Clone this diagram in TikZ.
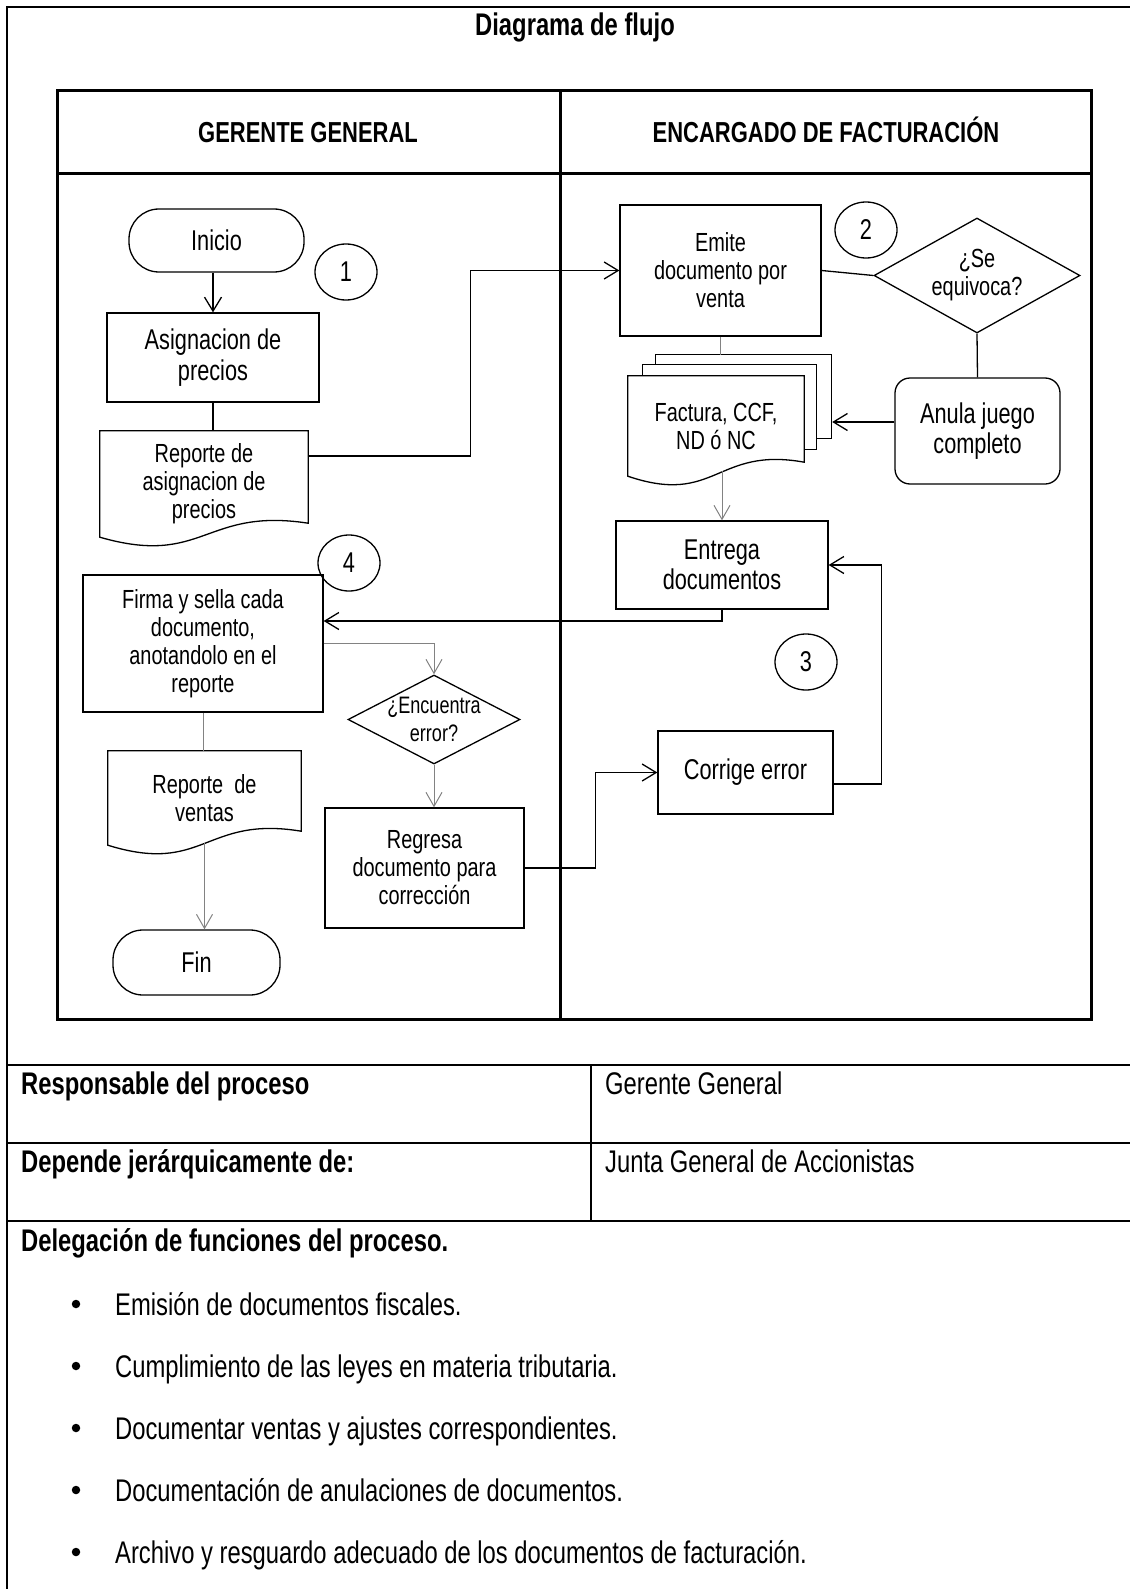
\documentclass[tikz,border=0pt]{standalone}
\usepackage{fontspec}
\setmainfont{Liberation Sans}[FakeStretch=0.76]
\usetikzlibrary{shapes.geometric}
\usetikzlibrary{arrows.meta}
\usetikzlibrary{calc}
\definecolor{flowgray}{RGB}{130,130,130}
\newcommand\flowtxt{\fontsize{26.2}{28}\selectfont}
\newcommand\flowbig{\fontsize{28.6}{30.5}\selectfont}
\newcommand\flowsml{\fontsize{23.8}{28}\selectfont}
\newcommand\headtxt{\fontsize{28.9}{31}\selectfont\bfseries}
\newcommand\tabtxt{\fontsize{31.3}{34}\selectfont}
\newcommand\docshape[1]{%
  \draw[line width=1.3pt] (#1.south west) -- (#1.north west) -- (#1.north east)
    -- ($(#1.south east)+(0,-14)$)
    .. controls ($(#1.south west)!0.5!(#1.south east)+(0,-30)$) and ($(#1.south west)!0.5!(#1.south east)+(0,30)$) .. (#1.south west) -- cycle;}
\tikzset{
  proc/.style={draw, line width=1.3pt, inner sep=0pt, align=center, font=\flowtxt},
  term/.style={proc, rounded corners=30pt, font=\flowbig},
  decision/.style={diamond, draw, line width=1.3pt, inner sep=-8pt, align=center, font=\flowtxt},
  doc/.style={inner sep=0pt, align=center, font=\flowtxt},
  num/.style={ellipse, draw, line width=1.3pt, minimum width=62pt, minimum height=56pt, inner sep=0pt, font=\flowbig},
  line/.style={line width=1.3pt},
  arr/.style={line width=1.3pt, -{Straight Barb[length=14pt,width=17pt]}},
  grayline/.style={line width=1pt, flowgray},
  grayarr/.style={line width=1pt, flowgray, -{Straight Barb[length=14pt,width=16pt]}},
  tabb/.style={inner sep=0pt, font=\tabtxt\bfseries},
  tabr/.style={inner sep=0pt, font=\tabtxt},
  dot/.style={circle, fill, inner sep=0pt, minimum size=8.5pt}
}

\begin{document}
\begin{tikzpicture}[x=1pt,y=-1pt]
\useasboundingbox (0,0) rectangle (1130,1589);

\draw[line width=2pt] (7,1589) -- (7,7) -- (1130,7);
\node[inner sep=0pt, font=\tabtxt\bfseries, anchor=base] (titulo) at (575,36) {Diagrama de flujo};

\draw[line width=3pt] (57,91) rectangle (1091,1019);
\draw[line width=3pt] (57,174) -- (1091,174);
\draw[line width=3pt] (560,91) -- (560,1019);
\node[inner sep=0pt, font=\headtxt, anchor=base] (gerente) at (308,143) {GERENTE GENERAL};
\node[inner sep=0pt, font=\headtxt, anchor=base] (encargado) at (826,143) {ENCARGADO DE FACTURACIÓN};

\node[term, minimum width=175pt, minimum height=63pt] (inicio) at (216.5,240.5) {Inicio};
\node[num] (n1) at (346,272) {1};
\node[proc, font=\flowbig, minimum width=212pt, minimum height=89pt] (asig) at (213,357.5) {Asignacion de\\precios};
\node[doc, minimum width=208pt, minimum height=106pt] (rep1) at (204,484) {Reporte de\\asignacion de\\precios};
\docshape{rep1}
\node[num] (n4) at (349,563) {4};
\node[proc, minimum width=240pt, minimum height=137pt] (firma) at (203,643.5) {Firma y sella cada\\documento,\\anotandolo en el\\reporte};
\node[doc, minimum width=193pt, minimum height=94pt] (rventas) at (204.5,798) {Reporte~ de\\ventas};
\docshape{rventas}
\node[term, minimum width=167pt, minimum height=65pt] (fin) at (196.5,962.5) {Fin};
\node[decision, font=\flowsml, minimum width=172pt, minimum height=89pt, aspect=1.93] (encuentra) at (434,719.5) {¿Encuentra\\error?};
\node[proc, minimum width=199pt, minimum height=120pt] (regresa) at (424.5,868) {Regresa\\documento para\\corrección};

\node[proc, minimum width=201pt, minimum height=131pt] (emite) at (720.5,270.5) {Emite\\documento por\\venta};
\node[num] (n2) at (866,230) {2};
\node[decision, minimum width=206pt, minimum height=115pt, aspect=1.8] (equivoca) at (977,275.5) {¿Se\\equivoca?};
\node[proc, rounded corners=15pt, font=\flowbig, minimum width=165pt, minimum height=106pt] (anula) at (977.5,431) {Anula juego\\completo};
\node[doc, minimum width=176pt, minimum height=100pt] (docs) at (716,426) {Factura, CCF,\\ND ó NC};
\docshape{docs}
\draw[line] ($(docs.north west)+(15,0)$) -- ++(0,-11) -- ++(174,0) -- ++(0,85) -- ++(-13,0);
\draw[line] ($(docs.north west)+(28,-11)$) -- ++(0,-10) -- ++(176,0) -- ++(0,84) -- ++(-15,0);
\coordinate (stack) at ($(docs.north east)+(28,0)$);
\coordinate (stacktop) at ($(docs.north west)+(28,-21)$);
\node[proc, font=\flowbig, minimum width=212pt, minimum height=88pt] (entrega) at (722,565) {Entrega\\documentos};
\node[num] (n3) at (806,662) {3};
\node[proc, font=\flowbig, minimum width=175pt, minimum height=83pt] (corrige) at (745.5,772.5) {Corrige error};

\draw[arr] (asig.north |- inicio.south) -- (asig.north);
\draw[line] (asig.south) -- (asig.south |- rep1.north);
\draw[arr] ([yshift=28pt]rep1.east) -- ++(162,0) |- (emite.west);
\draw[line] (emite.east) -- (equivoca.west);
\draw[line] (equivoca.south) -- (anula.north);
\coordinate (a1) at ([yshift=9pt]anula.west);
\draw[arr] (a1) -- (a1 -| stack);
\draw[grayline] (emite.south) -- (emite.south |- stacktop);
\coordinate (d1) at ([yshift=5pt]docs.south);
\draw[grayarr] (d1 -| entrega.north) -- (entrega.north);
\coordinate (f1) at ([yshift=22.5pt]firma.east);
\draw[arr] (entrega.south) |- (f1);
\draw[grayarr] (firma.east) -| (encuentra.north);
\draw[grayarr] (encuentra.south) -- (encuentra.south |- regresa.north);
\draw[arr] (regresa.east) -- ++(71,0) |- (corrige.west);
\draw[arr] ([yshift=-11.5pt]corrige.east) -- ++(48,0) |- (entrega.east);
\draw[grayline] (firma.south) -- (firma.south |- rventas.north);
\draw[grayarr] ([yshift=2pt]rventas.south) -- (rventas.south |- fin.north);

\draw[line width=2pt] (7,1065) -- (1130,1065);
\draw[line width=2pt] (7,1143) -- (1130,1143);
\draw[line width=2pt] (7,1221) -- (1130,1221);
\draw[line width=2pt] (591,1065) -- (591,1221);
\node[tabb, anchor=base west] (resp) at (21,1094) {Responsable del proceso};
\node[tabr, anchor=base west] (respval) at (605,1094) {Gerente General};
\node[tabb, anchor=base west] (depende) at (21,1172) {Depende jerárquicamente de:};
\node[tabr, anchor=base west] (dependeval) at (605,1172) {Junta General de Accionistas};
\node[tabb, anchor=base west] (deleg) at (21,1251) {Delegación de funciones del proceso.};

\node[dot] (b1) at (76,1304) {};
\node[tabr, anchor=base west] (item1) at (115,1315) {Emisión de documentos fiscales.};
\node[dot] (b2) at (76,1366) {};
\node[tabr, anchor=base west] (item2) at (115,1377) {Cumplimiento de las leyes en materia tributaria.};
\node[dot] (b3) at (76,1428) {};
\node[tabr, anchor=base west] (item3) at (115,1439) {Documentar ventas y ajustes correspondientes.};
\node[dot] (b4) at (76,1490) {};
\node[tabr, anchor=base west] (item4) at (115,1501) {Documentación de anulaciones de documentos.};
\node[dot] (b5) at (76,1552) {};
\node[tabr, anchor=base west] (item5) at (115,1563) {Archivo y resguardo adecuado de los documentos de facturación.};
\end{tikzpicture}
\end{document}
